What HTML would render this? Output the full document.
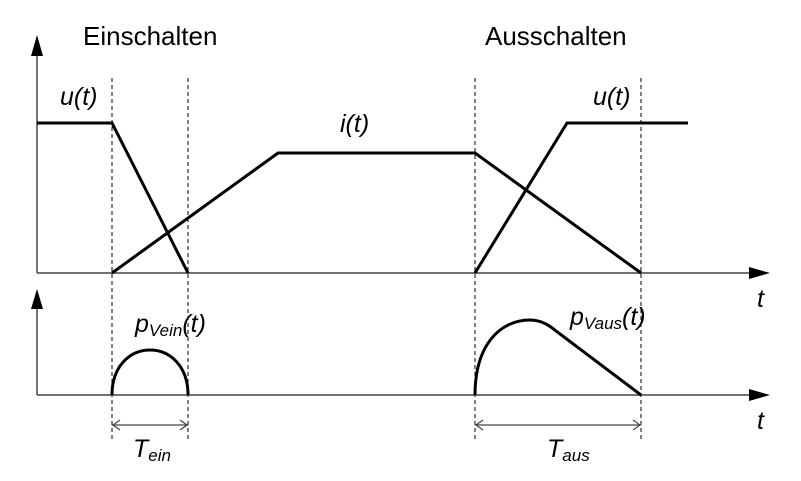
<!DOCTYPE html>
<html><head><meta charset="utf-8"><style>
html,body{margin:0;padding:0;background:#fff}
svg{display:block}
text{font-family:"Liberation Sans",Arial,sans-serif;fill:#000}
.it{font-style:italic}
</style></head><body>
<svg width="801" height="481" viewBox="0 0 801 481">
<g stroke="#000" stroke-width="1" stroke-dasharray="4,3">
<line x1="112" y1="78" x2="112" y2="440"/>
<line x1="188" y1="78" x2="188" y2="440"/>
<line x1="475" y1="78" x2="475" y2="440"/>
<line x1="641" y1="78" x2="641" y2="440"/>
</g>
<g stroke="#444" stroke-width="1.5">
<line x1="37" y1="50" x2="37" y2="273"/>
<line x1="37" y1="273" x2="752" y2="273"/>
</g>
<polygon points="37,35 31,56 43,56" fill="#000"/>
<polygon points="770,273 749,267 749,279" fill="#000"/>
<g stroke="#444" stroke-width="1.5">
<line x1="37" y1="305" x2="37" y2="395"/>
<line x1="37" y1="395" x2="752" y2="395"/>
</g>
<polygon points="37,289 31,309 43,309" fill="#000"/>
<polygon points="770,395 749,389 749,401" fill="#000"/>
<g fill="none" stroke="#000" stroke-width="3" stroke-linejoin="miter">
<polyline points="37,123 112,123 188,273"/>
<polyline points="475,273 567,123 688,123"/>
<polyline points="112,273 278,153 475,153 641,273"/>
<path d="M112,395 C112,335 188,335 188,395"/>
<path d="M475,395 C475,345 500,320 530,320 C542,320 550,326 556,331 L641,395"/>
</g>
<g stroke="#444" stroke-width="1.2" fill="none">
<line x1="112" y1="425" x2="188" y2="425"/>
<polyline points="120,420 113,425 120,430"/>
<polyline points="180,420 187,425 180,430"/>
<line x1="475" y1="425" x2="641" y2="425"/>
<polyline points="483,420 476,425 483,430"/>
<polyline points="633,420 640,425 633,430"/>
</g>
<text x="83" y="45" font-size="26">Einschalten</text>
<text x="485" y="45" font-size="26">Ausschalten</text>
<text x="60" y="105" font-size="25" class="it">u(t)</text>
<text x="593" y="105" font-size="25" class="it">u(t)</text>
<text x="340" y="132" font-size="25" class="it">i(t)</text>
<text x="757" y="307" font-size="25" class="it">t</text>
<text x="757" y="429" font-size="25" class="it">t</text>
<text x="135" y="332" font-size="25" class="it">p<tspan font-size="17" dy="4">Vein</tspan><tspan dy="-4">(t)</tspan></text>
<text x="570" y="325" font-size="25" class="it">p<tspan font-size="17" dy="4">Vaus</tspan><tspan dy="-4">(t)</tspan></text>
<text x="133" y="457" font-size="25" class="it">T<tspan font-size="17" dy="4">ein</tspan></text>
<text x="547" y="457" font-size="25" class="it">T<tspan font-size="17" dy="4">aus</tspan></text>
</svg>
</body></html>
